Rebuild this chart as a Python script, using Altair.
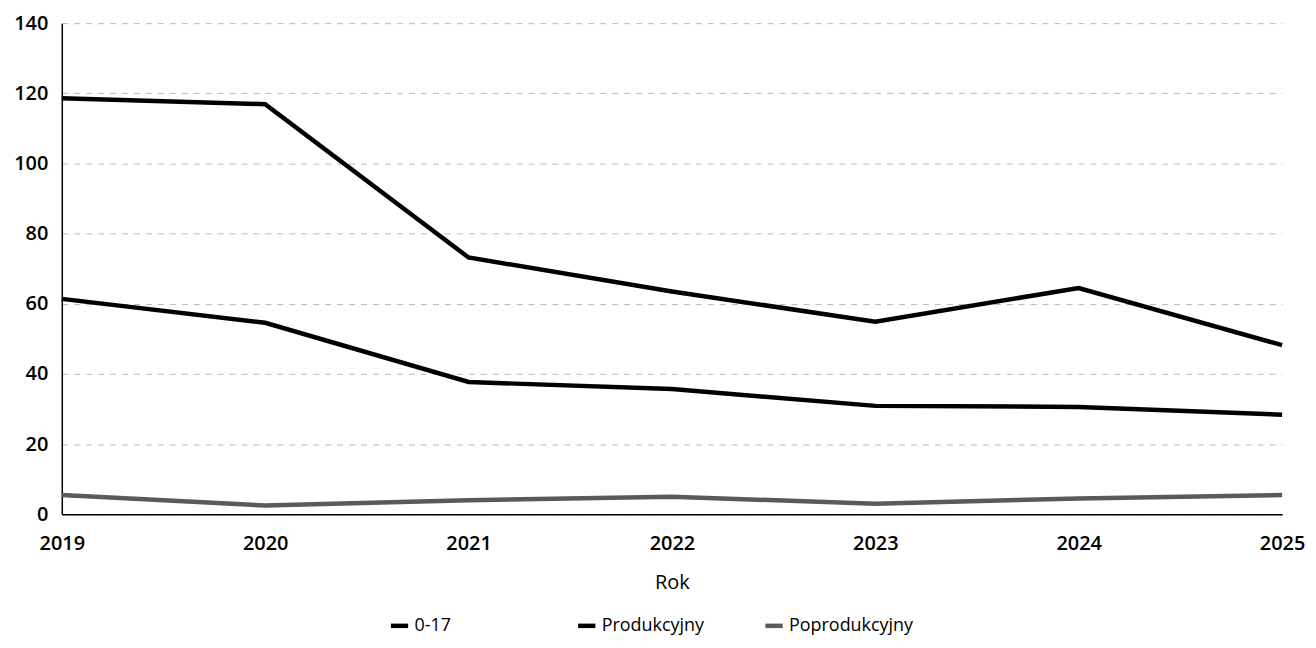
import altair as alt
import pandas as pd

years = [2019, 2020, 2021, 2022, 2023, 2024, 2025]
series_names = ["0-17", "Produkcyjny", "Poprodukcyjny"]
v_0_17 = [61.4, 54.6, 37.7, 35.7, 30.9, 30.6, 28.4]
v_prod = [118.6, 116.9, 73.2, 63.5, 54.9, 64.5, 48.2]
v_poprod = [5.5, 2.5, 4.0, 5.0, 3.0, 4.5, 5.5]

rows = []
for name, vals in zip(series_names, [v_0_17, v_prod, v_poprod]):
    for y, v in zip(years, vals):
        rows.append({"Rok": str(y), "Wartość": v, "Grupa": name})
df = pd.DataFrame(rows)

FONT = "Open Sans"

chart = alt.Chart(df).mark_line(strokeJoin="miter").encode(
    x=alt.X("Rok:O", title="Rok",
            scale=alt.Scale(padding=0),
            axis=alt.Axis(labelAngle=0, labelFontSize=20, labelFont=FONT,
                          labelFontWeight=600,
                          labelColor="#000", labelPadding=19, ticks=False,
                          titleFontSize=20, titleFont=FONT, titleFontWeight="normal",
                          titleColor="#000", titlePadding=20,
                          domainColor="#000", domainWidth=1.5, grid=False)),
    y=alt.Y("Wartość:Q", title=None,
            scale=alt.Scale(domain=[0, 140], nice=False),
            axis=alt.Axis(values=[0, 20, 40, 60, 80, 100, 120, 140],
                          labelFontSize=20, labelFont=FONT, labelColor="#000",
                          labelFontWeight=600,
                          labelPadding=14, ticks=False,
                          domainColor="#000", domainWidth=1.5,
                          gridColor="#8a8a8a", gridDash=[6, 6], gridWidth=1,
                          gridOpacity=0.6)),
    color=alt.Color("Grupa:N", sort=series_names,
                    scale=alt.Scale(domain=series_names, range=["#000000", "#000000", "#5a5a5a"]),
                    legend=alt.Legend(title=None, orient="none", direction="horizontal",
                                      columns=3, gridAlign="all", columnPadding=30,
                                      legendX=328, legendY=594,
                                      symbolType="stroke", symbolSize=300,
                                      symbolStrokeWidth=4,
                                      labelFontSize=18, labelFont=FONT, labelColor="#000",
                                      symbolOffset=0)),
    strokeWidth=alt.StrokeWidth("Grupa:N", sort=series_names,
                                scale=alt.Scale(domain=series_names, range=[4.5, 4.5, 1.8]),
                                legend=None),
).properties(
    width=1225, height=493,
    autosize=alt.AutoSizeParams(type="none"),
    padding={"left": 54, "top": 14, "right": 26, "bottom": 125},
).configure_view(stroke=None)

chart.save("out.html", embed_options={"renderer": "svg", "actions": False})
